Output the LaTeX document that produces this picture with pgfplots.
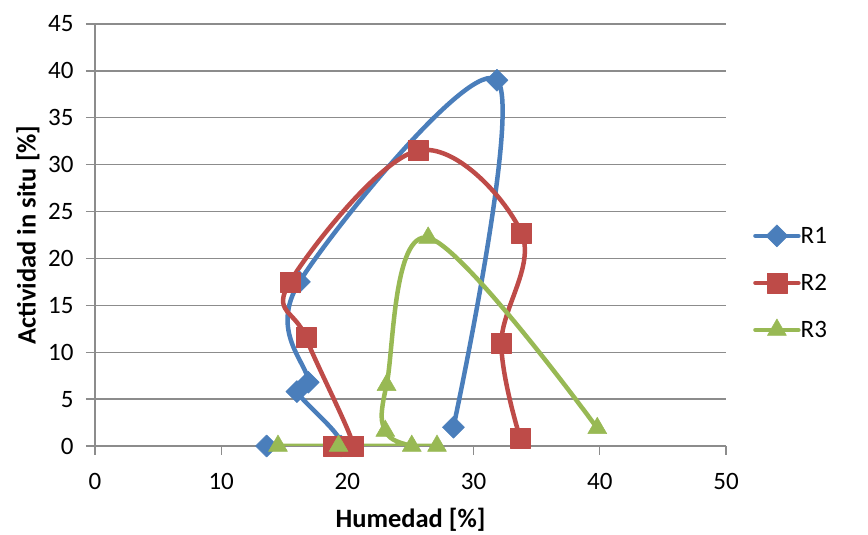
\documentclass[border=0pt]{standalone}
\usepackage{pgfplots}
\pgfplotsset{compat=1.18}
\usepackage{fontspec}
\setmainfont{Carlito}
\definecolor{b1}{HTML}{4A7EBB}
\definecolor{r2}{HTML}{BE4B48}
\definecolor{g3}{HTML}{98B954}
\definecolor{gridc}{HTML}{8C8C8C}
\begin{document}
\begin{tikzpicture}
\path[use as bounding box] (-95pt,-89pt) rectangle (773pt,446pt);
\begin{axis}[
  at={(0pt,0pt)}, anchor=south west,
  scale only axis, width=631pt, height=422pt,
  xmin=0, xmax=50, ymin=0, ymax=45,
  xtick={0,10,...,50}, ytick={0,5,...,45},
  axis lines=left, axis line style={-, gridc, line width=1.3pt},
  ymajorgrids, grid style={gridc, line width=1.3pt},
  tick style={gridc, line width=1.3pt}, tick align=outside,
  major tick length=9pt,
  ticklabel style={font=\fontsize{25}{30}\selectfont, text=black},
  yticklabel style={xshift=-9pt},
  xticklabel style={yshift=-15pt},
  /pgf/number format/assume math mode=true,
  xlabel={Humedad [\%]}, ylabel={Actividad in situ [\%]},
  label style={font=\fontsize{26.5}{30}\selectfont\bfseries},
  xlabel style={at={(axis description cs:0.5,0)}, anchor=center, yshift=-74pt},
  ylabel style={at={(axis description cs:0,0.5)}, anchor=center, yshift=67pt},
  legend style={draw=none, fill=none, at={(rel axis cs:1.038,0.389)}, anchor=west,
    font=\fontsize{25}{30}\selectfont, row sep=26pt, column sep=0pt,
    nodes={inner sep=0pt}},
  legend cell align=left,
  legend image code/.code={\draw[mark repeat=2, mark phase=2, #1] plot coordinates {(0pt,0pt) (21.5pt,0pt) (43pt,0pt)};},
  every axis plot/.append style={line width=4.5pt, smooth, tension=0.6, line join=round, line cap=round},
]
\addplot[b1, mark=square*, mark size=7.8pt, mark options={rotate=45, fill=b1, line width=0.5pt}]
 coordinates {(13.6,0) (19.5,0) (16.0,5.8) (16.9,6.8) (16.2,17.5) (31.85,39.0) (28.4,2.0)};
\addlegendentry{R1}
\addplot[r2, mark=square*, mark size=10pt, mark options={fill=r2, line width=0.5pt}]
 coordinates {(18.9,0) (20.5,0) (16.7,11.6) (15.45,17.5) (25.6,31.5) (33.8,22.7) (32.2,11.0) (33.7,0.8)};
\addlegendentry{R2}
\addplot[g3, mark=triangle*, mark size=11pt, mark options={fill=g3, line width=0.5pt}]
 coordinates {(14.5,0) (19.3,0) (27.1,0) (25.1,0) (23.0,1.6) (23.1,6.5) (26.4,22.2) (39.8,1.9)};
\addlegendentry{R3}
\end{axis}
\end{tikzpicture}
\end{document}
